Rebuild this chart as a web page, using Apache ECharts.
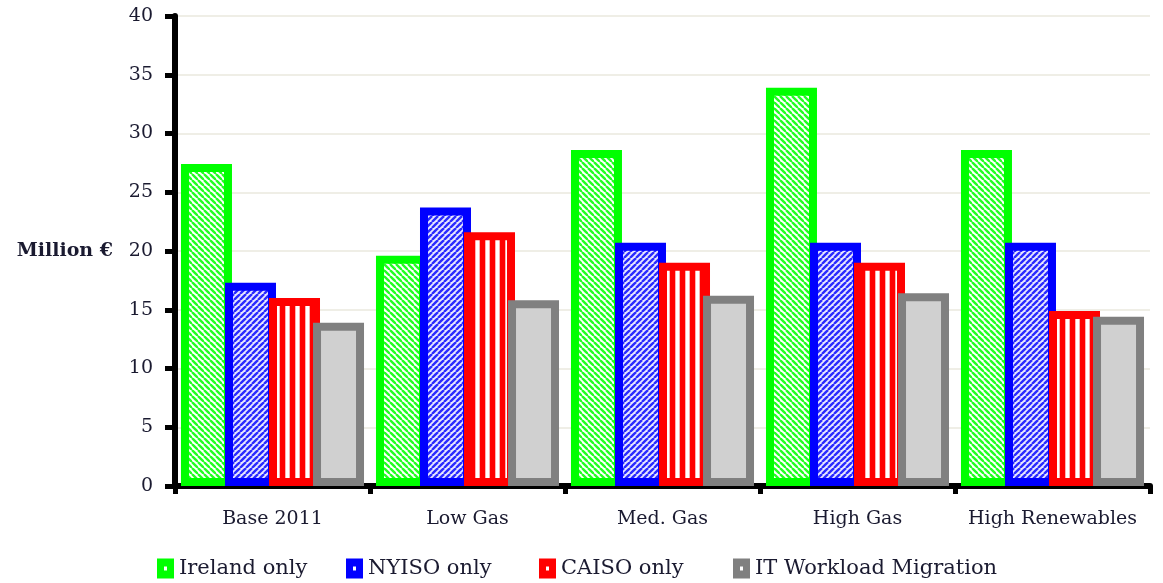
<!DOCTYPE html>
<html>
<head>
<meta charset="utf-8">
<script src="https://cdn.jsdelivr.net/npm/echarts@6/dist/echarts.min.js"></script>
<style>
  html, body { margin: 0; padding: 0; background: #ffffff; }
  #chart { width: 1163px; height: 583px; }
</style>
</head>
<body>
<div id="chart"></div>
<script>
// Scenario categories and the four dispatch strategies (Million €)
const categories = ['Base 2011', 'Low Gas', 'Med. Gas', 'High Gas', 'High Renewables'];
const seriesNames = ['Ireland only', 'NYISO only', 'CAISO only', 'IT Workload Migration'];
const irelandOnly = [27.4, 19.6, 28.6, 33.9, 28.6];
const nyisoOnly   = [17.3, 23.7, 20.7, 20.7, 20.7];
const caisoOnly   = [16.0, 21.6, 19.0, 19.0, 14.9];
const itMigration = [13.9, 15.8, 16.2, 16.4, 14.4];
const yTicks = { min: 0, max: 40, step: 5 };

const FONT = 'DejaVu Serif';
const TEXT = '#1a1a30';

// Hatched fills built as small repeating canvas tiles
function diagTile(color, back, dir) {
  const n = 6;
  const c = document.createElement('canvas');
  c.width = n; c.height = n;
  const g = c.getContext('2d');
  g.fillStyle = back; g.fillRect(0, 0, n, n);
  g.strokeStyle = color; g.lineWidth = 2.4;
  for (let k = -1; k <= 1; k++) {
    g.beginPath();
    if (dir === 'down') { g.moveTo(k * n, 0); g.lineTo(k * n + n, n); }
    else { g.moveTo(k * n, n); g.lineTo(k * n + n, 0); }
    g.stroke();
  }
  return { image: c, repeat: 'repeat' };
}
function vertTile(color, back) {
  const c = document.createElement('canvas');
  c.width = 10; c.height = 4;
  const g = c.getContext('2d');
  g.fillStyle = color; g.fillRect(0, 0, 10, 4);
  g.fillStyle = '#ffb0b0'; g.fillRect(5, 0, 5, 4);
  g.fillStyle = back; g.fillRect(6, 0, 3, 4);
  return { image: c, repeat: 'repeat' };
}

const styles = [
  { border: '#00ff00', fill: diagTile('#22ff22', '#ffffff', 'down'), legend: '#00ff00' },
  { border: '#0000ff', fill: diagTile('#2a2aff', '#e8e8ff', 'up'), legend: '#0000ff' },
  { border: '#ff0000', fill: vertTile('#ff0000', '#ffffff'), legend: '#ff0000' },
  { border: '#808080', fill: '#d0d0d0', legend: '#808080' }
];
const values = [irelandOnly, nyisoOnly, caisoOnly, itMigration];

const series = seriesNames.map((name, i) => ({
  name: name,
  type: 'bar',
  data: values[i],
  barWidth: 51,
  barGap: '-13.7%',
  itemStyle: {
    color: styles[i].fill,
    borderColor: styles[i].border,
    borderWidth: 8,
    borderJoin: 'miter',
    borderRadius: 0
  },
  emphasis: { disabled: true }
}));

// One legend block per series so each entry sits at its own place
const legendLeft = [157, 346, 539, 733];
const legends = seriesNames.map((name, i) => ({
  left: legendLeft[i],
  top: 558,
  padding: 0,
  icon: 'path://M0,0H17V20H0Z M7,8V12H10V8Z',
  itemWidth: 17,
  itemHeight: 20,
  itemGap: 0,
  selectedMode: false,
  textStyle: { fontFamily: FONT, fontSize: 21, color: TEXT, padding: [0, 0, 0, 0] },
  data: [{ name: name, itemStyle: { color: styles[i].legend, borderWidth: 0 } }]
}));

const chart = echarts.init(document.getElementById('chart'), null, { renderer: 'canvas' });
chart.setOption({
  animation: false,
  backgroundColor: '#ffffff',
  grid: { left: 175, right: 13, top: 16, bottom: 97, containLabel: false },
  legend: legends,
  xAxis: {
    type: 'category',
    data: categories,
    axisLine: { lineStyle: { color: '#000', width: 6 } },
    axisTick: { show: true, interval: 0, length: 8, lineStyle: { color: '#000', width: 5 } },
    axisLabel: { interval: 0, fontFamily: FONT, fontSize: 19, color: TEXT, margin: 24 },
    splitLine: { show: false }
  },
  yAxis: {
    type: 'value',
    min: yTicks.min,
    max: yTicks.max,
    interval: yTicks.step,
    name: 'Million €',
    nameLocation: 'middle',
    nameRotate: 0,
    nameGap: 62,
    nameTextStyle: { fontFamily: FONT, fontSize: 19, fontWeight: 'bold', color: TEXT, align: 'right' },
    axisLine: { show: true, lineStyle: { color: '#000', width: 6 } },
    axisTick: { show: true, length: 10, lineStyle: { color: '#000', width: 5 } },
    axisLabel: { fontFamily: FONT, fontSize: 19, color: TEXT, margin: 22 },
    splitLine: { show: true, lineStyle: { color: '#efeee6', width: 2 } }
  },
  series: series
});
</script>
</body>
</html>
